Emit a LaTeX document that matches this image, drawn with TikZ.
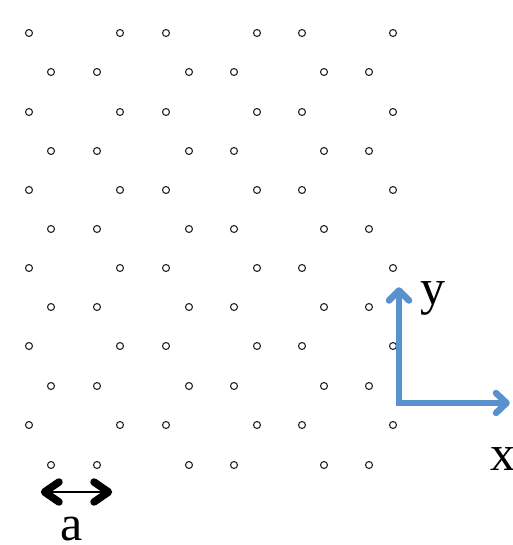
\documentclass[tikz,border=0pt]{standalone}
\usepackage{fontspec}
\setmainfont{Liberation Serif}
\usetikzlibrary{calc}
\definecolor{axisblue}{RGB}{88,145,205}
\begin{document}
\begin{tikzpicture}[x=1pt,y=-1pt,
  site/.style={circle,draw=black!85,line width=1.1pt,minimum size=7pt,inner sep=0pt},
  lbl/.style={font=\fontsize{50}{50}\selectfont,inner sep=0pt,anchor=base},
  axisline/.style={draw=axisblue,line width=5.5pt,line join=miter},
  axishead/.style={draw=axisblue,line width=6.5pt,line cap=round,line join=round},
  axisshadow/.style={draw=black,opacity=0.10,line width=6pt,line join=miter},
  scaleline/.style={draw=black,line width=2.6pt},
  scalehead/.style={draw=black,line width=7.5pt,line cap=round,line join=round}]
\useasboundingbox (0,0) rectangle (512,545);
% lattice sites
\foreach \r/\yy in {1/33,2/112,3/190,4/268,5/346,6/425}{
  \foreach \c/\xx in {1/29,2/120,3/166,4/257,5/302,6/393}{
    \node[site] (A-\r-\c) at (\xx,\yy) {};
  }
}
\foreach \r/\yy in {1/72,2/151,3/229,4/307,5/386,6/465}{
  \foreach \c/\xx in {1/51,2/97,3/189,4/234,5/324,6/369}{
    \node[site] (B-\r-\c) at (\xx,\yy) {};
  }
}
% scale arrow
\coordinate (aL) at (40,492);
\coordinate (aR) at (113,492);
\draw[scaleline] ($(aL)+(5,0)$) -- ($(aR)+(-5,0)$);
\draw[scalehead] ($(aL)+(19,-10)$) -- ($(aL)+(4.5,0)$) -- ($(aL)+(19,10)$);
\draw[scalehead] ($(aR)+(-19,-10)$) -- ($(aR)+(-4.5,0)$) -- ($(aR)+(-19,10)$);
\node[lbl] (alabel) at (72,540) {a};
% axes
\coordinate (ytip) at (399,287);
\coordinate (corner) at (399,403);
\coordinate (xtip) at (510,403);
\draw[axisshadow,shift={(1.5,2)}] ($(ytip)+(0,5)$) -- (corner) -- ($(xtip)+(-5,0)$);
\draw[axisline] ($(ytip)+(0,5)$) -- (corner) -- ($(xtip)+(-5,0)$);
\draw[axishead] ($(ytip)+(-10,13.5)$) -- ($(ytip)+(0,3.5)$) -- ($(ytip)+(10,13.5)$);
\draw[axishead] ($(xtip)+(-14,-10)$) -- ($(xtip)+(-3.5,0)$) -- ($(xtip)+(-14,10)$);
\node[lbl] (ylabel) at (433,304) {y};
\node[lbl] (xlabel) at (503,470) {x};
\end{tikzpicture}
\end{document}
